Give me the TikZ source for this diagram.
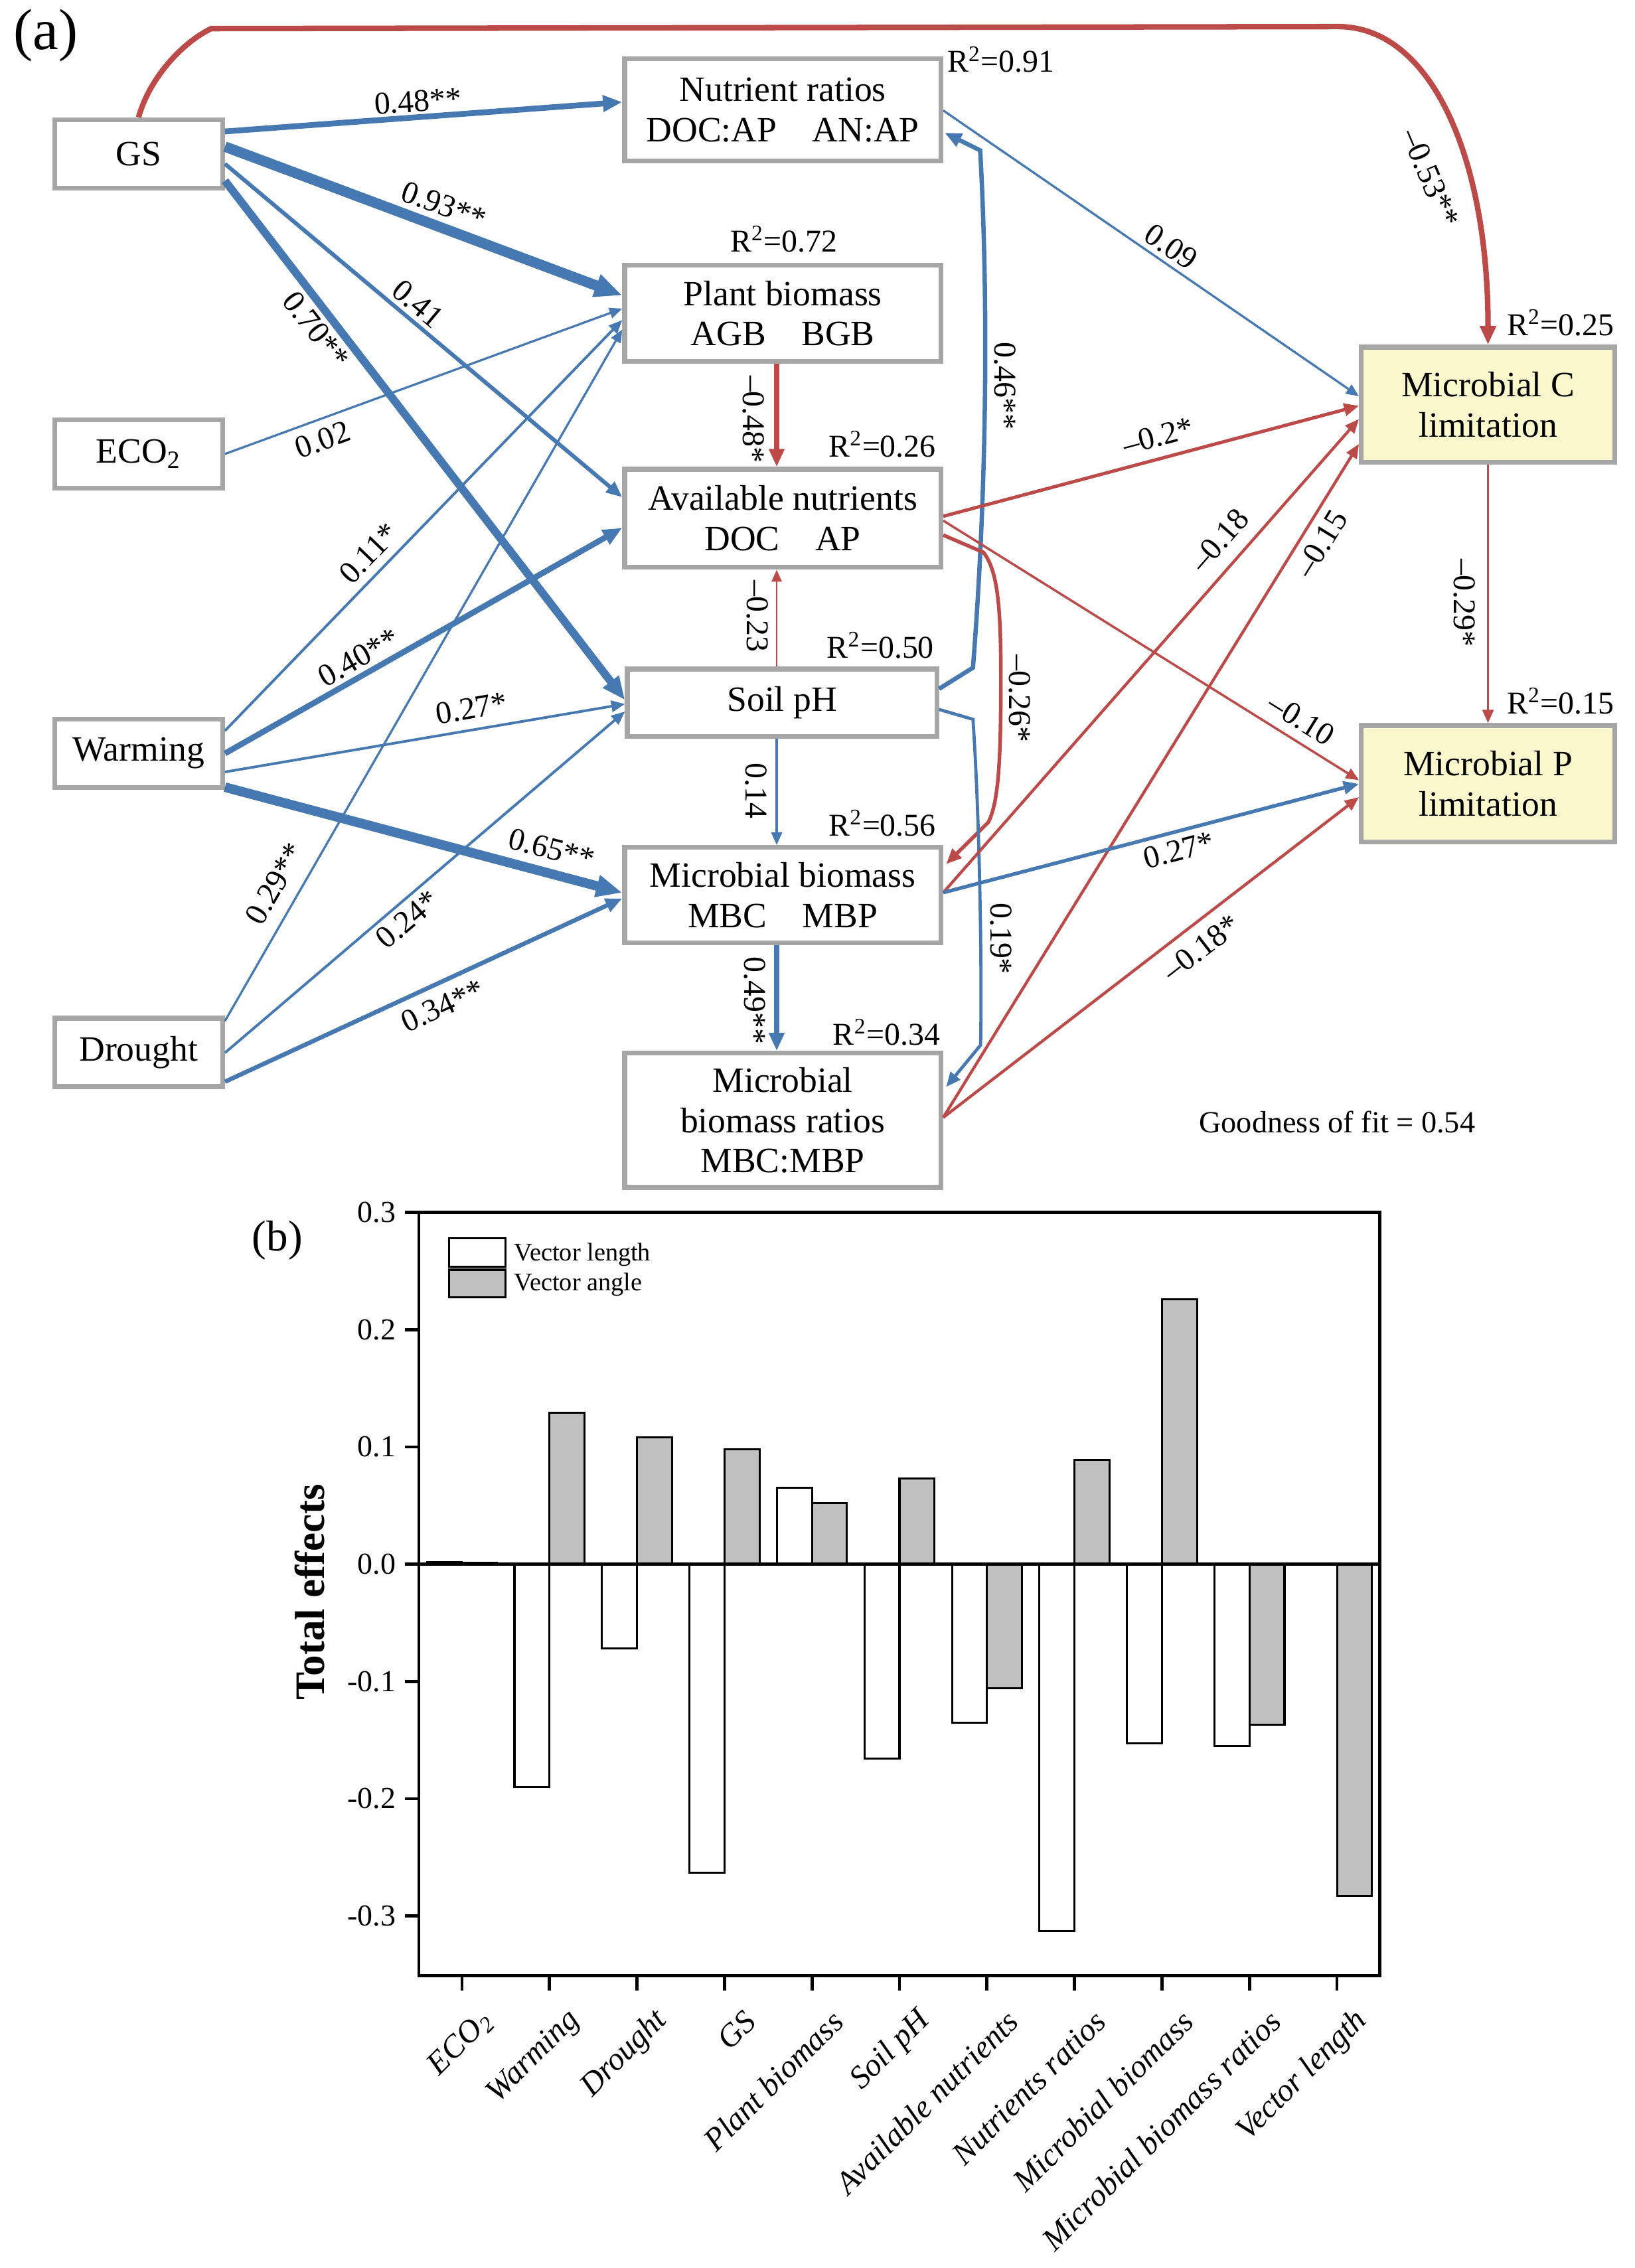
\documentclass[tikz,border=0pt]{standalone}
\usepackage{fontspec}
\setmainfont{Liberation Serif}
\usetikzlibrary{arrows.meta,calc}
\definecolor{cblue}{RGB}{70,120,178}
\definecolor{cred}{RGB}{188,74,72}
\definecolor{bgray}{RGB}{166,166,166}
\definecolor{cyel}{RGB}{250,247,204}
\definecolor{bargray}{RGB}{192,192,192}
\begin{document}
\begin{tikzpicture}[x=0.02cm,y=-0.02cm,
  box/.style={draw=bgray, line width=1.88pt, fill=white, align=center, inner sep=0pt, font=\fontsize{14}{15.8}\selectfont},
  sbox/.style={box, minimum width=2.324cm, minimum height=0.946cm},
  mbox/.style={box, minimum width=4.374cm},
  ybox/.style={box, fill=cyel, minimum width=3.504cm},
  elab/.style={inner sep=0pt, font=\fontsize{12.5}{14}\selectfont},
  rlab/.style={inner sep=0pt, anchor=base, font=\fontsize{12.5}{14}\selectfont},
  lw/.style={line width={#1*0.569pt}},
  be/.style={draw=cblue, -{Triangle[length=3.5pt 1.8, width=3pt 1.4]}},
  re/.style={draw=cred, -{Triangle[length=3.5pt 1.8, width=3pt 1.4]}},
  barw/.style={draw=black, fill=white, line width=0.8pt},
  barg/.style={draw=black, fill=bargray, line width=0.8pt},
  tickl/.style={inner sep=0pt, font=\fontsize{12}{14}\selectfont},
  catl/.style={inner sep=0pt, font=\fontsize{12.6}{15}\selectfont\itshape},
  legl/.style={inner sep=0pt, font=\fontsize{10}{12}\selectfont}]
\useasboundingbox (0,0) rectangle (1130,1568.3);

% ---------- panel labels ----------
\node[inner sep=0pt, anchor=base west, font=\fontsize{22.8}{26}\selectfont] (pa) at (9,34) {(a)};
\node[inner sep=0pt, anchor=base west, font=\fontsize{17}{20}\selectfont] (pbl) at (174,865) {(b)};

% ---------- boxes ----------
\node[sbox] (gs) at (95.8,106.4) {GS};
\node[sbox] (eco) at (95.8,313.9) {ECO\textsubscript{2}};
\node[sbox] (warm) at (95.8,520.8) {Warming};
\node[sbox] (drou) at (95.8,727.7) {Drought};
\node[mbox, minimum height=1.414cm] (nr) at (541.2,76) {Nutrient ratios\\DOC:AP\quad AN:AP};
\node[mbox, minimum height=1.33cm] (pb) at (541.2,216.7) {Plant biomass\\AGB\quad BGB};
\node[mbox, minimum height=1.356cm] (an) at (541.2,358.4) {Available nutrients\\DOC\quad AP};
\node[box, minimum width=4.28cm, minimum height=0.934cm] (ph) at (540.7,486) {Soil pH};
\node[mbox, minimum height=1.316cm] (mb) at (541.2,618.9) {Microbial biomass\\MBC\quad MBP};
\node[mbox, minimum height=1.856cm] (mbr) at (541.2,774.7) {Microbial\\biomass ratios\\MBC:MBP};
\node[ybox, minimum height=1.594cm] (micc) at (1028.8,279.9) {Microbial C\\limitation};
\node[ybox, minimum height=1.61cm] (micp) at (1028.8,541.9) {Microbial P\\limitation};

% ---------- R2 labels ----------
\node[rlab] (r1) at (692,50) {R\textsuperscript{2}=0.91};
\node[rlab] (r2) at (542,174) {R\textsuperscript{2}=0.72};
\node[rlab] (r3) at (610,316) {R\textsuperscript{2}=0.26};
\node[rlab] (r4) at (608.7,455) {R\textsuperscript{2}=0.50};
\node[rlab] (r5) at (610,578) {R\textsuperscript{2}=0.56};
\node[rlab] (r6) at (613,722.6) {R\textsuperscript{2}=0.34};
\node[rlab] (r7) at (1079,231.8) {R\textsuperscript{2}=0.25};
\node[rlab] (r8) at (1079,493.4) {R\textsuperscript{2}=0.15};
\node[inner sep=0pt, anchor=base, font=\fontsize{12.1}{14}\selectfont] (gof) at (924.5,783) {Goodness of fit = 0.54};

% ---------- connectors ----------
% from GS
\draw[be, lw=4] ($(gs.east)+(0,-15.5)$) -- ($(nr.west)+(0,-5.4)$);
\draw[be, lw=7.2] ($(gs.east)+(0,-5)$) -- ($(pb.west)+(0,-12.5)$);
\draw[be, lw=2.75] ($(gs.east)+(0,6.9)$) -- ($(an.west)+(0,-14.6)$);
\draw[be, lw=5.5] ($(gs.east)+(0,18.6)$) -- ($(ph.west)+(0,-2)$);
\draw[re, lw=3.8] (gs.north) .. controls (103,55) and (125,30) .. (146,19.8) -- (925,18.4) .. controls (990,18.4) and (1029,110) .. (micc.north);
% from ECO2
\draw[be, lw=1.5] (eco.east) -- ($(pb.west)+(0,-3.3)$);
% from Warming
\draw[be, lw=1.8] ($(warm.east)+(0,-15.5)$) -- ($(pb.west)+(0,4.6)$);
\draw[be, lw=4] ($(warm.east)+(0,0.2)$) -- ($(an.west)+(0,6.6)$);
\draw[be, lw=1.8] ($(warm.east)+(0,13)$) -- ($(ph.west)+(0,0.8)$);
\draw[be, lw=6.6] ($(warm.east)+(0,23.5)$) -- ($(mb.west)+(0,-1.6)$);
% from Drought
\draw[be, lw=1.5] ($(drou.east)+(0,-21.7)$) -- ($(pb.west)+(0,11.2)$);
\draw[be, lw=1.8] ($(drou.east)+(0,0.3)$) -- ($(ph.west)+(0,6)$);
\draw[be, lw=3] ($(drou.east)+(0,20.3)$) -- ($(mb.west)+(0,2.3)$);
% verticals in the middle column
\draw[re, lw=3.5] ($(pb.south)+(-4.2,0)$) -- ($(an.north)+(-4.2,0)$);
\draw[re, lw=1.2] ($(ph.north)+(-3.7,0)$) -- ($(an.south)+(-4.2,0)$);
\draw[be, lw=1.5] ($(ph.south)+(-3.7,0)$) -- ($(mb.north)+(-4.2,0)$);
\draw[be, lw=3.5] ($(mb.south)+(-4.2,0)$) -- ($(mbr.north)+(-4.2,0)$);
% bent connectors right of the middle column
\draw[be, lw=3] ($(ph.east)+(0,-9.7)$) -- (672.7,461.7) .. controls (683,330) and (683,200) .. (677.7,104) -- ($(nr.east)+(1,15.8)$);
\draw[re, lw=2.5] ($(an.east)+(0,11.6)$) -- (680,382) .. controls (690,395) and (692,420) .. (692,470) .. controls (692,530) and (690,555) .. (683.4,568.5) -- ($(mb.east)+(2,-21.4)$);
\draw[be, lw=2.2] ($(ph.east)+(0,4.6)$) -- (672.7,497.4) .. controls (677,560) and (679,660) .. (678,722.6) -- ($(mbr.east)+(2,-23.1)$);
% to microbial limitations
\draw[be, lw=1.5] ($(nr.east)+(0,0.4)$) -- ($(micc.west)+(0,-5.9)$);
\draw[re, lw=2.3] ($(an.east)+(0,-1.4)$) -- ($(micc.west)+(0,0.7)$);
\draw[re, lw=1.6] ($(an.east)+(0,1.6)$) -- ($(micp.west)+(0,-2.4)$);
\draw[re, lw=2] ($(mb.east)+(0,-1.7)$) -- ($(micc.west)+(0,9.9)$);
\draw[re, lw=2] ($(mbr.east)+(0,-2)$) -- ($(micc.west)+(0,27.1)$);
\draw[be, lw=2.5] ($(mb.east)+(0,-1.7)$) -- ($(micp.west)+(0,0.1)$);
\draw[re, lw=2] ($(mbr.east)+(0,-2)$) -- ($(micp.west)+(0,9.3)$);
\draw[re, lw=1.7] (micc.south) -- (micp.north);

% ---------- path coefficients ----------
\node[elab, rotate=4] (l01) at (289,70) {0.48**};
\node[elab, rotate=-20.3] (l02) at (307,142) {0.93**};
\node[elab, rotate=-40] (l03) at (289,210) {0.41};
\node[elab, rotate=-52.4] (l04) at (218.6,228) {0.70**};
\node[elab, rotate=-67] (l05) at (989,123) {\textendash0.53**};
\node[elab, rotate=20] (l06) at (223,304) {0.02};
\node[elab, rotate=46] (l07) at (255,382.6) {0.11*};
\node[elab, rotate=29.4] (l08) at (248,454.6) {0.40**};
\node[elab, rotate=9.6] (l09) at (326,490) {0.27*};
\node[elab, rotate=-14.7] (l10) at (381.5,587) {0.65**};
\node[elab, rotate=60] (l11) at (190,611) {0.29**};
\node[elab, rotate=40.5] (l12) at (281.7,635.7) {0.24*};
\node[elab, rotate=24.5] (l13) at (306,695.5) {0.34**};
\node[elab, rotate=-90] (l14) at (521,290) {\textendash0.48*};
\node[elab, rotate=-90] (l15) at (523.8,426.3) {\textendash0.23};
\node[elab, rotate=-90] (l16) at (523,547) {0.14};
\node[elab, rotate=-90] (l17) at (522,692) {0.49**};
\node[elab, rotate=-90] (l18) at (695,267) {0.46**};
\node[elab, rotate=-90] (l19) at (705,483) {\textendash0.26*};
\node[elab, rotate=-90] (l20) at (692,649) {0.19*};
\node[elab, rotate=-34.5] (l21) at (809.7,170.6) {0.09};
\node[elab, rotate=14.9] (l22) at (800.7,301.6) {\textendash0.2*};
\node[elab, rotate=-32] (l23) at (899.9,497.4) {\textendash0.10};
\node[elab, rotate=48.8] (l24) at (843,373.4) {\textendash0.18};
\node[elab, rotate=58.4] (l25) at (913.4,376) {\textendash0.15};
\node[elab, rotate=14.7] (l26) at (815,588) {0.27*};
\node[elab, rotate=37.7] (l27) at (830.5,655.4) {\textendash0.18*};
\node[elab, rotate=-90] (l28) at (1012.5,417) {\textendash0.29*};

% ---------- panel (b): bar chart ----------
\foreach \i/\w/\g in {0/0.002/0.001, 1/-0.190/0.129, 2/-0.072/0.108, 3/-0.263/0.098, 4/0.065/0.052, 5/-0.166/0.073, 6/-0.135/-0.106, 7/-0.313/0.089, 8/-0.153/0.226, 9/-0.155/-0.137}{
  \pgfmathsetmacro\cx{319.4+60.5*\i}
  \draw[barw] ({\cx-24.2},1081.6) rectangle ({\cx},{1081.6-(\w)*811});
  \draw[barg] ({\cx},1081.6) rectangle ({\cx+24.2},{1081.6-(\g)*811});
}
\draw[barg] (924.4,1081.6) rectangle (948.6,{1081.6+0.283*811});
\draw[line width=1.15pt] (289.6,1081.6) -- (953.8,1081.6);
\draw[line width=1.25pt] (289.6,838.3) rectangle (953.8,1366.2);
\foreach \v/\t [count=\k] in {0.3/0.3, 0.2/0.2, 0.1/0.1, 0/0.0, -0.1/-0.1, -0.2/-0.2, -0.3/-0.3}{
  \pgfmathsetmacro\yy{1081.6-(\v)*811}
  \draw[line width=1.25pt] (280,\yy) -- (289.6,\yy);
  \node[tickl, anchor=east] (yt\k) at (274,\yy) {\t};
}
\foreach \n [count=\k from 0] in {{ECO\textsubscript{2}}, Warming, Drought, GS, Plant biomass, Soil pH, Available nutrients, Nutrients ratios, Microbial biomass, Microbial biomass ratios, Vector length}{
  \pgfmathsetmacro\cx{319.4+60.5*\k}
  \draw[line width=1.25pt] (\cx,1366.2) -- (\cx,1376.5);
  \node[catl, rotate=45, anchor=east] (cl\k) at ({\cx+18},1394) {\n};
}
\node[inner sep=0pt, rotate=90, font=\fontsize{16.5}{19}\selectfont\bfseries] (ylab) at (214,1101) {Total effects};
% legend
\draw[barw] (310.5,856.3) rectangle (349.3,875.9);
\draw[barg] (310.5,878) rectangle (349.3,897);
\node[legl, anchor=base west] (lg1) at (355.3,871.6) {Vector length};
\node[legl, anchor=base west] (lg2) at (355.3,892.6) {Vector angle};
\end{tikzpicture}
\end{document}
